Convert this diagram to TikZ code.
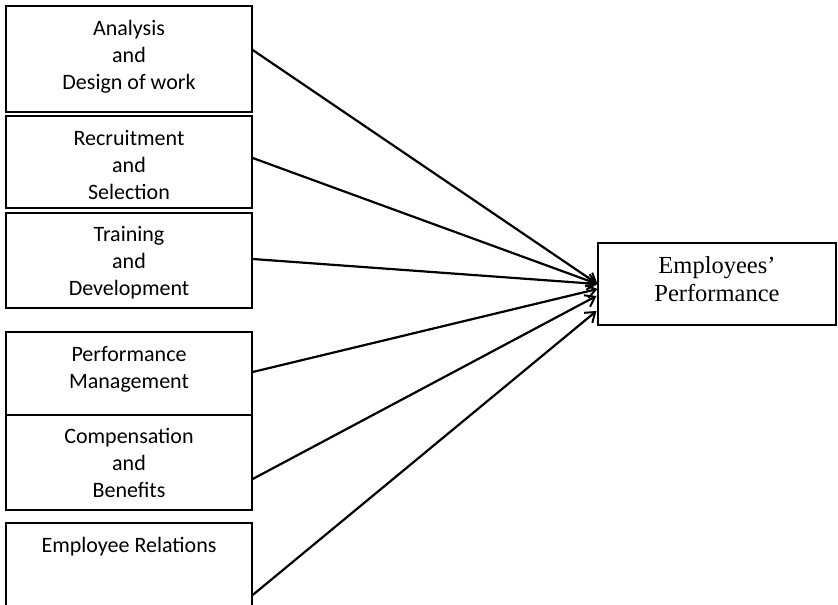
\documentclass[tikz,border=0pt]{standalone}
\usepackage{fontspec}
\newfontfamily\carl{Carlito}
\newfontfamily\tnr{Liberation Serif}
\usetikzlibrary{arrows.meta,calc}
\tikzset{
  box/.style={draw, line width=1.4pt, minimum width=246pt, inner sep=0pt},
  lbl/.style={align=center, font=\carl\fontsize{22}{27}\selectfont, inner sep=0pt, anchor=base},
  rlbl/.style={align=center, font=\tnr\fontsize{24.5}{28}\selectfont, inner sep=0pt, anchor=base},
  conn/.style={line width=2.2pt, -{Straight Barb[length=9pt,width=13pt,line width=2pt]}}
}
\begin{document}
\begin{tikzpicture}[x=1pt,y=-1pt]
\useasboundingbox (0,0) rectangle (838,605);
\begin{scope}
\clip (0,0) rectangle (838,605);
\node[box, minimum height=106pt] (b1) at (129,59) {};
\node[box, minimum height=92pt] (b2) at (129,162) {};
\node[box, minimum height=95pt] (b3) at (129,260.5) {};
\node[box, minimum height=83pt] (b4) at (129,373.5) {};
\node[box, minimum height=95pt] (b5) at (129,462.5) {};
\node[box, minimum height=92pt] (b6) at (129,569) {};
\node[draw, line width=1.1pt, minimum width=238pt, minimum height=82pt, inner sep=0pt] (r) at (717,284) {};
\end{scope}
\node[lbl] (t1) at (129,89) {Analysis\\and\\Design of work};
\node[lbl] (t2) at (129,199) {Recruitment\\and\\Selection};
\node[lbl] (t3) at (129,295) {Training\\and\\Development};
\node[lbl] (t4) at (129,388) {Performance\\Management};
\node[lbl] (t5) at (129,497) {Compensation\\and\\Benefits};
\node[lbl] (t6) at (129,552) {Employee Relations};
\node[rlbl] (tr) at (717,301) {Employees’\\Performance};
\coordinate (s1) at ($(b1.east)+(0,-9)$);
\coordinate (s2) at ($(b2.east)+(0,-4)$);
\coordinate (s3) at ($(b3.east)+(0,-1.5)$);
\coordinate (s4) at ($(b4.east)+(0,-1.5)$);
\coordinate (s5) at ($(b5.east)+(0,16.5)$);
\coordinate (s6) at ($(b6.east)+(0,26)$);
\coordinate (e1) at (r.west);
\coordinate (e4) at ($(r.west)+(0,5)$);
\coordinate (e5) at ($(r.west)+(-1,12)$);
\coordinate (e6) at ($(r.west)+(-1,27)$);
\draw[conn] (s1) -- (e1);
\draw[conn] (s2) -- (e1);
\draw[conn] (s3) -- (e1);
\draw[conn] (s4) -- (e4);
\draw[conn] (s5) -- (e5);
\draw[conn] (s6) -- (e6);
\end{tikzpicture}
\end{document}
